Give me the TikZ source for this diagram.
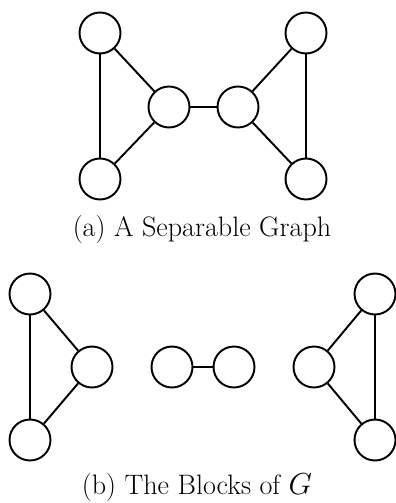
\documentclass[tikz,border=0pt]{standalone}
\begin{document}
\begin{tikzpicture}[
        x=0.02cm,
        y=-0.02cm,
        every node/.style={
            circle,
            draw=black,
            fill=white,
            line width=1.1pt,
            minimum size=8.2mm,
            inner sep=0pt
        },
        caption/.style={
            rectangle,
            draw=none,
            fill=none,
            font=\fontsize{16}{19}\selectfont
        }
    ]
    \useasboundingbox (0,0) rectangle (395,503);

    % Vértices (a)
    \node (a1) at (100,33)  {};
    \node (a2) at (100,179) {};
    \node (a3) at (169,107) {};
    \node (a4) at (238,107) {};
    \node (a5) at (306,33)  {};
    \node (a6) at (306,179) {};
    \node[caption] (capa) at (202,229) {(a) A Separable Graph};

    % Aristas (a)
    \draw[line width=1.1pt] (a1) -- (a2);
    \draw[line width=1.1pt] (a1) -- (a3);
    \draw[line width=1.1pt] (a2) -- (a3);
    \draw[line width=1.1pt] (a3) -- (a4);
    \draw[line width=1.1pt] (a4) -- (a5);
    \draw[line width=1.1pt] (a4) -- (a6);
    \draw[line width=1.1pt] (a5) -- (a6);

    % Vértices (b)
    \node (b1) at (30,294)  {};
    \node (b2) at (30,440)  {};
    \node (b3) at (92,367)  {};
    \node (b4) at (172,367) {};
    \node (b5) at (234,367) {};
    \node (b6) at (314,367) {};
    \node (b7) at (375,294) {};
    \node (b8) at (375,440) {};
    \node[caption] (capb) at (197,487) {(b) The Blocks of $G$};

    % Aristas (b)
    \draw[line width=1.1pt] (b1) -- (b2);
    \draw[line width=1.1pt] (b1) -- (b3);
    \draw[line width=1.1pt] (b2) -- (b3);
    \draw[line width=1.1pt] (b4) -- (b5);
    \draw[line width=1.1pt] (b6) -- (b7);
    \draw[line width=1.1pt] (b6) -- (b8);
    \draw[line width=1.1pt] (b7) -- (b8);

\end{tikzpicture}
\end{document}
